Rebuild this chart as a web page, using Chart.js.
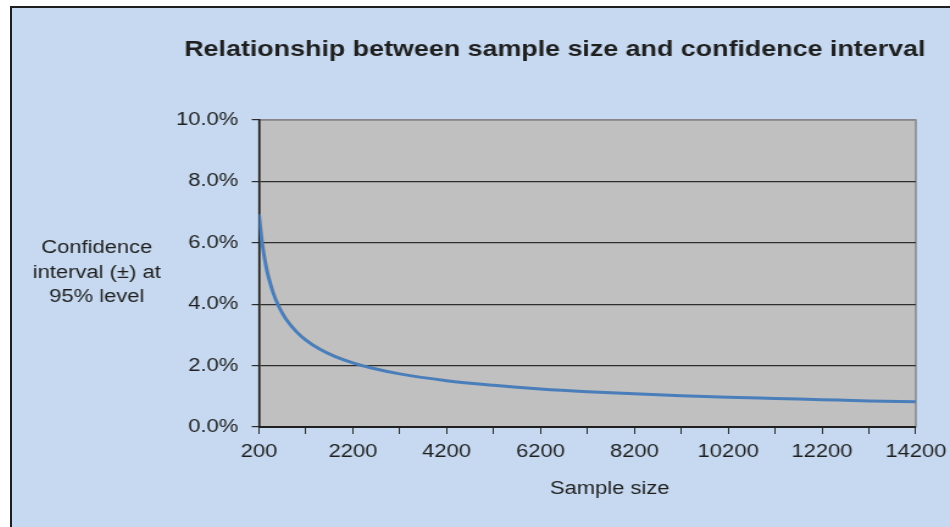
<!DOCTYPE html>
<html>
<head>
<meta charset="utf-8">
<title>Sample size vs confidence interval</title>
<script src="https://cdn.jsdelivr.net/npm/chart.js@4.4.1/dist/chart.umd.min.js"></script>
<style>
  html, body { margin: 0; padding: 0; background: #fff; overflow: hidden; }
  .frame {
    position: absolute; left: 10px; top: 6px;
    width: 940px; height: 521px;
    border-top: 2px solid #1e1e1e; border-left: 2px solid #1e1e1e;
    background: #c6d9f0; overflow: hidden;
  }
  /* chart is drawn narrow and widened to the frame */
  .chart-wrap {
    position: absolute; left: 0; top: 0;
    width: 773px; height: 519px;
    transform: scaleX(1.2198); transform-origin: 0 0;
  }
</style>
</head>
<body>
<div class="frame">
  <div class="chart-wrap"><canvas id="ciChart"></canvas></div>
</div>
<script>
'use strict';

/* ── data ── */
const SAMPLE_SIZES = [200, 250, 300, 350, 400, 500, 600, 700, 800, 1000, 1200, 1500, 1800, 2200, 2600,
                      3200, 4200, 5200, 6200, 7200, 8200, 9200, 10200, 11200, 12200, 13200, 14200];
const CI_PERCENT   = [6.93, 6.2, 5.66, 5.24, 4.9, 4.38, 4.0, 3.7, 3.46, 3.1, 2.83, 2.53, 2.31, 2.09, 1.92,
                      1.73, 1.51, 1.36, 1.24, 1.15, 1.08, 1.02, 0.97, 0.93, 0.89, 0.85, 0.82];

const X_TICKS       = [200, 1200, 2200, 3200, 4200, 5200, 6200, 7200, 8200, 9200, 10200, 11200, 12200, 13200, 14200];
const X_TICK_LABELS = ['200', '', '2200', '', '4200', '', '6200', '', '8200', '', '10200', '', '12200', '', '14200'];
const Y_TICKS       = [0, 2, 4, 6, 8, 10];

const TITLE   = 'Relationship between sample size and confidence interval';
const X_TITLE = 'Sample size';
const Y_TITLE = ['Confidence', 'interval (\u00b1) at', '95% level'];

const FONT = "'Liberation Sans', Arial, sans-serif";
const INK  = '#1f1f1f';

/* gray plot area with a light border, drawn under the axes */
const plotBackground = {
  id: 'plotBackground',
  beforeDraw(chart) {
    const { ctx, chartArea: a } = chart;
    ctx.save();
    ctx.fillStyle = '#c0c0c0';
    ctx.fillRect(a.left, a.top, a.right - a.left, a.bottom - a.top);
    ctx.strokeStyle = '#878787';
    ctx.lineWidth = 1.5;
    ctx.strokeRect(a.left, a.top, a.right - a.left, a.bottom - a.top);
    ctx.restore();
  },
};

/* chart title and horizontal axis titles */
const chartText = {
  id: 'chartText',
  afterDraw(chart) {
    const { ctx } = chart;
    ctx.save();
    ctx.fillStyle = INK;
    ctx.textAlign = 'center';
    ctx.textBaseline = 'alphabetic';

    ctx.font = `bold 22px ${FONT}`;
    ctx.fillText(TITLE, 445, 48);

    ctx.font = `18px ${FONT}`;
    Y_TITLE.forEach((line, i) => ctx.fillText(line, 69.5, 245 + i * 24.5));

    ctx.fillText(X_TITLE, 490, 486);
    ctx.restore();
  },
};

Chart.defaults.font.family = FONT;
Chart.defaults.color = INK;

new Chart(document.getElementById('ciChart'), {
  type: 'line',
  data: {
    datasets: [{
      data: SAMPLE_SIZES.map((n, i) => ({ x: n, y: CI_PERCENT[i] })),
      borderColor: '#4a7ebb',
      borderWidth: 3,
      pointRadius: 0,
      cubicInterpolationMode: 'monotone',
      fill: false,
    }],
  },
  options: {
    responsive: true,
    maintainAspectRatio: false,
    animation: false,
    layout: { padding: { top: 112, right: 27, bottom: 0, left: 0 } },
    plugins: {
      legend: { display: false },
      tooltip: { enabled: false },
    },
    scales: {
      x: {
        type: 'linear',
        min: 200,
        max: 14200,
        afterFit: s => { s.height = 100; },
        afterBuildTicks: s => { s.ticks = X_TICKS.map(v => ({ value: v })); },
        border: { color: '#202020', width: 2 },
        grid: { drawOnChartArea: false, drawTicks: true, tickLength: 7, color: '#2a2a2a' },
        ticks: {
          autoSkip: false,
          maxRotation: 0,
          padding: 7,
          font: { size: 18 },
          callback: (v, i) => X_TICK_LABELS[i],
        },
      },
      y: {
        min: 0,
        max: 10,
        afterFit: s => { s.width = 202.5; },
        afterBuildTicks: s => { s.ticks = Y_TICKS.map(v => ({ value: v })); },
        border: { color: '#202020', width: 1.6 },
        grid: {
          color: c => (c.tick && c.tick.value === 10 ? '#878787' : '#2e2e2e'),
          tickColor: '#2a2a2a',
          tickLength: 6,
          lineWidth: 1.2,
        },
        ticks: {
          padding: 11,
          font: { size: 18 },
          callback: v => v.toFixed(1) + '%',
        },
      },
    },
  },
  plugins: [plotBackground, chartText],
});
</script>
</body>
</html>
